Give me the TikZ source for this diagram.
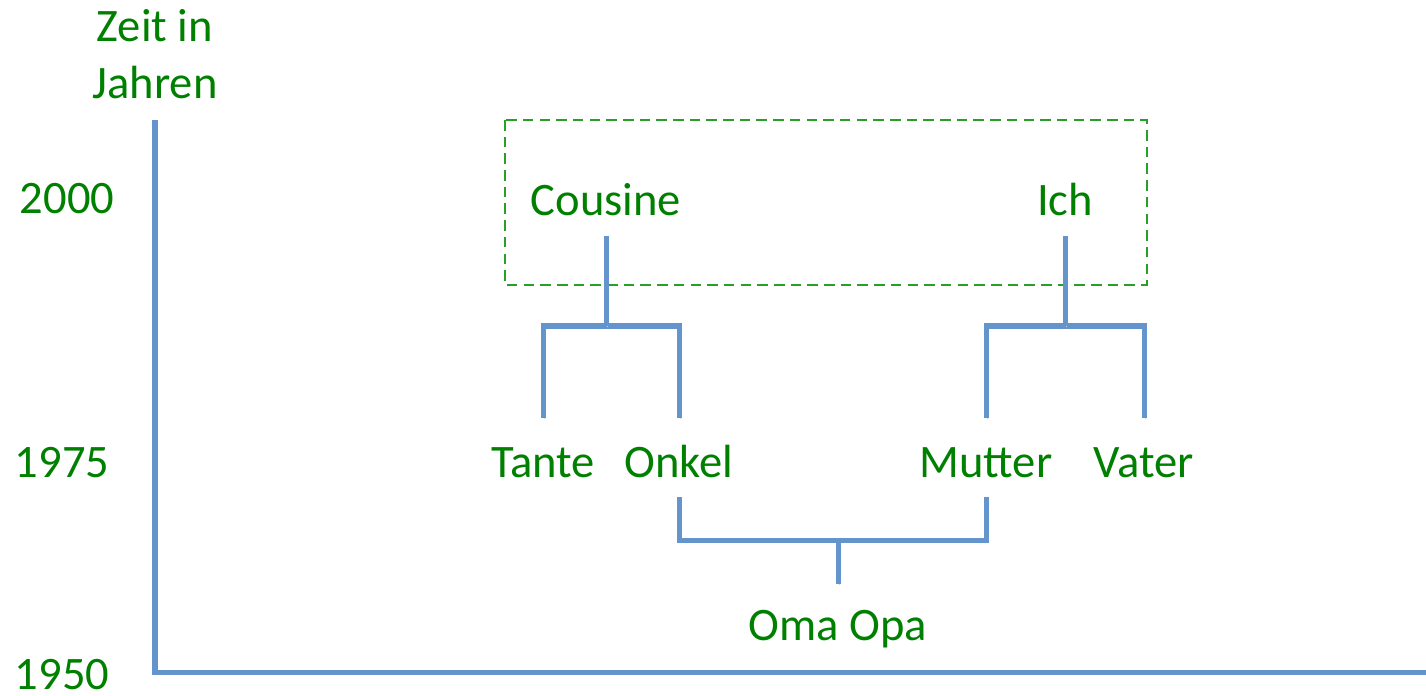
\documentclass[tikz,border=0pt]{standalone}
\usepackage{fontspec}
\setmainfont{Carlito}
\usetikzlibrary{positioning,calc}
\definecolor{ftgreen}{RGB}{0,128,0}
\definecolor{ftboxgreen}{RGB}{40,160,40}
\definecolor{ftblue}{RGB}{99,148,204}
\tikzstyle{person} = [text=ftgreen, font=\fontsize{26.5}{32}\selectfont, anchor=base, inner sep=0pt]
\tikzstyle{famline} = [line width=2.85pt, color=ftblue, preaction={draw=black!18, transform canvas={xshift=0.8pt,yshift=-0.8pt}}]
\tikzstyle{gen} = [draw=ftboxgreen, dash pattern=on 6pt off 3.5pt, line width=1pt]

\begin{document}
\begin{tikzpicture}[x=0.02cm,y=-0.02cm]
\useasboundingbox (0,0) rectangle (1426,696);

% Axis
\coordinate (top) at (155,120);
\coordinate (origin) at (155,672);
\coordinate (right) at (1426,672);
\draw[famline] (top) -- (origin) -- (right);
\node[person, align=center] (zeit) at (155,98) {Zeit in\\Jahren};
\node[person] (y2000) at (67,213) {2000};
\node[person] (y1975) at (62,477) {1975};
\node[person] (y1950) at (62,689) {1950};

% Generation box
\draw[gen] (505,120) rectangle (1147,285);

% People
\node[person] (cousine) at (606,215) {Cousine};
\node[person] (ich) at (1065,215) {Ich};
\node[person] (tante) at (543,477) {Tante};
\node[person] (onkel) at (679,477) {Onkel};
\node[person] (mutter) at (986,477) {Mutter};
\node[person] (vater) at (1144,477) {Vater};
\node[person] (omaopa) at (838,640) {Oma Opa};

% Levels
\coordinate (link) at (0,326);
\coordinate (parents) at (0,418);
\coordinate (kids) at (0,497);
\coordinate (link2) at (0,540);
\coordinate (grand) at (0,584);

% Cousine
\draw[famline] (tante |- parents) -- (tante |- link) -- (onkel |- link) -- (onkel |- parents);
\draw[famline] ($(cousine.base)+(0,21)$) -- (cousine |- link);

% Ich
\draw[famline] (mutter |- parents) -- (mutter |- link) -- (vater |- link) -- (vater |- parents);
\draw[famline] ($(ich.base)+(0,21)$) -- (ich |- link);

% Oma Opa
\draw[famline] (onkel |- kids) -- (onkel |- link2) -- (mutter |- link2) -- (mutter |- kids);
\draw[famline] (omaopa |- link2) -- (omaopa |- grand);
\end{tikzpicture}
\end{document}
